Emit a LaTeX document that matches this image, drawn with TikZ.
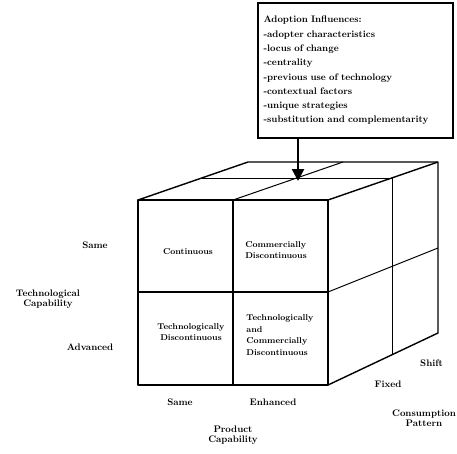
\documentclass[tikz,border=0pt]{standalone}
\usetikzlibrary{arrows.meta}
\begin{document}
\begin{tikzpicture}[x=1pt,y=-1pt,
  edge/.style={line width=1.4pt,line join=round},
  thin edge/.style={line width=1pt},
  lbl/.style={font=\bfseries\fontsize{9.5}{10.5}\selectfont,align=center,inner sep=0pt},
  cell/.style={font=\bfseries\fontsize{8.5}{11.5}\selectfont,inner sep=0pt},
  infbox/.style={draw,line width=1.2pt,minimum width=195pt,minimum height=135pt,
     text width=184pt,align=left,inner sep=0pt,font=\bfseries\fontsize{9.5}{14.3}\selectfont}]
\useasboundingbox (0,0) rectangle (457,453);
% front face
\coordinate (FTL) at (138,200); \coordinate (FTM) at (233,200); \coordinate (FTR) at (328,200);
\coordinate (FML) at (138,292); \coordinate (FMR) at (328,292);
\coordinate (FBL) at (138,385); \coordinate (FBM) at (233,385); \coordinate (FBR) at (328,385);
% back / side
\coordinate (BTL) at (248,162); \coordinate (BTM) at (343,162); \coordinate (BTR) at (438,162);
\coordinate (BMR) at (438,248); \coordinate (BBR) at (438,333);
\coordinate (HTL) at (202,178); \coordinate (HTR) at (392,178);
\coordinate (HBR) at (392,355);
\draw[edge] (FTL) rectangle (FBR);
\draw[edge] (FTM) -- (FBM);
\draw[edge] (FML) -- (FMR);
\draw[edge] (FTL) -- (BTL) -- (BTR) -- (BBR) -- (FBR);
\draw[edge] (FTR) -- (BTR);
\draw[thin edge] (FTM) -- (BTM);
\draw[thin edge] (HTL) -- (HTR) -- (HBR);
\draw[thin edge] (FMR) -- (BMR);
% cells
\node[cell] (c1) at (188,252) {Continuous};
\node[cell,align=left] (c2) at (276,250) {Commercially\\Discontinuous};
\node[cell,align=center] (c3) at (191,332) {Technologically\\Discontinuous};
\node[cell,align=left] (c4) at (280,335) {Technologically\\and\\Commercially\\Discontinuous};
% axis labels
\node[lbl] (lsame) at (95,245) {Same};
\node[lbl] (tcap) at (48,299) {Technological\\Capability};
\node[lbl] (ladv) at (90,347) {Advanced};
\node[lbl] (bsame) at (180,402) {Same};
\node[lbl] (benh) at (273,402) {Enhanced};
\node[lbl] (pcap) at (233,435) {Product\\Capability};
\node[lbl,anchor=west] (rshift) at (420,363) {Shift};
\node[lbl] (rfixed) at (388,384) {Fixed};
\node[lbl] (cpat) at (424,418) {Consumption\\Pattern};
% influences box
\node[infbox] (infl) at (355.5,70.5) {Adoption Influences:\\
-adopter characteristics\\
-locus of change\\
-centrality\\
-previous use of technology\\
-contextual factors\\
-unique strategies\\
-substitution and complementarity};
\coordinate (tip) at (298,181);
\draw[line width=2.4pt,-{Triangle[length=12pt,width=12pt]}] (infl.south -| tip) -- (tip);
\end{tikzpicture}
\end{document}
